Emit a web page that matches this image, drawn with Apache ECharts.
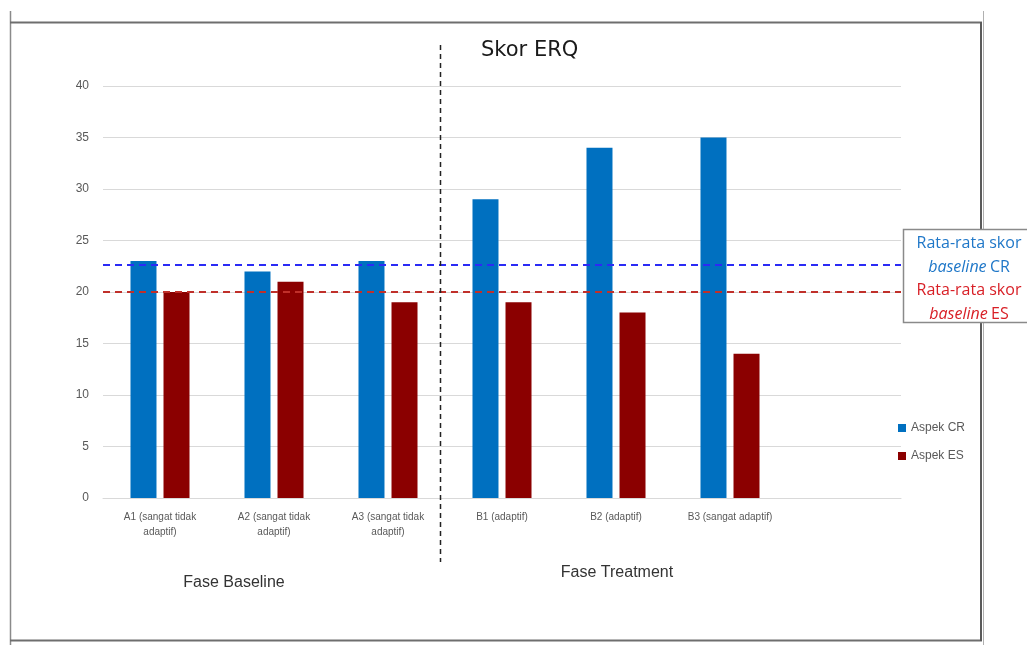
<!DOCTYPE html>
<html>
<head>
<meta charset="utf-8">
<script src="https://cdn.jsdelivr.net/npm/echarts@6/dist/echarts.min.js"></script>
<style>
  html, body { margin: 0; padding: 0; background: #ffffff; }
  #chart { width: 1027px; height: 645px; }
</style>
</head>
<body>
<div id="chart"></div>
<script>
// Categories for the two phases (baseline A1-A3, treatment B1-B3)
const categories = [
  'A1 (sangat tidak\nadaptif)',
  'A2 (sangat tidak\nadaptif)',
  'A3 (sangat tidak\nadaptif)',
  'B1 (adaptif)',
  'B2 (adaptif)',
  'B3 (sangat adaptif)'
];
const seriesNames = ['Aspek CR', 'Aspek ES'];
const valuesCR = [23, 22, 23, 29, 34, 35];
const valuesES = [20, 21, 19, 19, 18, 14];
const baselineCount = 3;
const yTicks = [0, 5, 10, 15, 20, 25, 30, 35, 40];

const mean = arr => arr.reduce((s, v) => s + v, 0) / arr.length;
const baselineCR = mean(valuesCR.slice(0, baselineCount));
const baselineES = mean(valuesES.slice(0, baselineCount));

// one spare empty slot on the right of the category axis
const axisCategories = categories.concat(['']);

const chart = echarts.init(document.getElementById('chart'), null, { renderer: 'canvas' });

const labelFont = '"Liberation Sans", Arial, sans-serif';
const calFont = '"Open Sans", "Noto Sans", sans-serif';

const option = {
  backgroundColor: '#ffffff',
  animation: false,
  title: {
    text: 'Skor ERQ',
    left: 476,
    top: 35,
    textStyle: { fontFamily: '"DejaVu Sans", sans-serif', fontSize: 21, fontWeight: 'normal', color: '#1a1a1a' }
  },
  legend: {
    data: seriesNames,
    orient: 'vertical',
    left: 893,
    top: 417,
    itemWidth: 8,
    itemHeight: 8,
    itemGap: 16,
    icon: 'rect',
    textStyle: { fontFamily: labelFont, fontSize: 12, color: '#595959' }
  },
  grid: { left: 103, right: 126, top: 86, bottom: 147, containLabel: false },
  xAxis: {
    type: 'category',
    data: axisCategories,
    axisLine: { show: true, lineStyle: { color: '#d9d9d9', width: 1 } },
    axisTick: { show: false },
    axisLabel: {
      interval: 0,
      margin: 12,
      fontFamily: labelFont,
      fontSize: 10,
      lineHeight: 15,
      color: '#595959'
    }
  },
  yAxis: {
    type: 'value',
    min: yTicks[0],
    max: yTicks[yTicks.length - 1],
    interval: 5,
    axisLine: { show: false },
    axisTick: { show: false },
    splitLine: { lineStyle: { color: '#d9d9d9', width: 1 } },
    axisLabel: { fontFamily: labelFont, fontSize: 12, color: '#595959', margin: 14 }
  },
  series: [
    {
      name: seriesNames[0],
      type: 'bar',
      data: valuesCR,
      barWidth: 26,
      barGap: '27%',
      itemStyle: { color: '#0070c0' },
      markLine: {
        symbol: 'none',
        silent: true,
        label: { show: false },
        lineStyle: { color: '#2b2bf5', type: [7, 5], width: 2 },
        data: [{ yAxis: baselineCR }]
      }
    },
    {
      name: seriesNames[1],
      type: 'bar',
      data: valuesES,
      barWidth: 26,
      itemStyle: { color: '#8b0000' },
      markLine: {
        symbol: 'none',
        silent: true,
        label: { show: false },
        lineStyle: { color: '#c0302a', type: [7, 5], width: 2 },
        data: [{ yAxis: baselineES }]
      }
    }
  ]
};

chart.setOption(option);

// Divider between the baseline and treatment phases, plus the frame and notes
const leftEdge = chart.convertToPixel({ xAxisIndex: 0 }, baselineCount - 1);
const rightEdge = chart.convertToPixel({ xAxisIndex: 0 }, baselineCount);
const dividerX = Math.round((leftEdge + rightEdge) / 2) - 4.5;
const baselineMid = chart.convertToPixel({ xAxisIndex: 0 }, 1);
const treatMid = chart.convertToPixel({ xAxisIndex: 0 }, 4);

chart.setOption({
  graphic: [
    // outer frame
    { type: 'line', shape: { x1: 10.5, y1: 11, x2: 10.5, y2: 645 }, style: { stroke: '#8a8a8a', lineWidth: 1.5 }, z: 1 },
    { type: 'line', shape: { x1: 10, y1: 22.5, x2: 982, y2: 22.5 }, style: { stroke: '#6e6e6e', lineWidth: 2 }, z: 1 },
    { type: 'line', shape: { x1: 10, y1: 640.5, x2: 982, y2: 640.5 }, style: { stroke: '#6e6e6e', lineWidth: 2 }, z: 1 },
    { type: 'line', shape: { x1: 981, y1: 22, x2: 981, y2: 641 }, style: { stroke: '#5a5a5a', lineWidth: 2 }, z: 1 },
    { type: 'line', shape: { x1: 983.5, y1: 11, x2: 983.5, y2: 645 }, style: { stroke: '#b0b0b0', lineWidth: 1 }, z: 1 },
    // phase divider
    {
      type: 'line',
      shape: { x1: dividerX, y1: 45, x2: dividerX, y2: 562 },
      style: { stroke: '#222222', lineWidth: 1.5, lineDash: [5, 4] },
      z: 10
    },
    // phase names
    {
      type: 'text', x: baselineMid - 40, y: 583,
      style: { text: 'Fase Baseline', fill: '#333333', font: '16px "Liberation Sans", Arial, sans-serif', textAlign: 'center', textVerticalAlign: 'middle' }
    },
    {
      type: 'text', x: treatMid + 1, y: 573,
      style: { text: 'Fase Treatment', fill: '#333333', font: '16px "Liberation Sans", Arial, sans-serif', textAlign: 'center', textVerticalAlign: 'middle' }
    },
    // note box for the dashed average lines
    {
      type: 'rect',
      shape: { x: 903.5, y: 229.5, width: 130, height: 93 },
      style: { fill: '#ffffff', stroke: '#8a8a8a', lineWidth: 1.5 },
      z: 20
    },
    {
      type: 'text', x: 969, y: 279, z: 21,
      style: {
        text: '{b|Rata-rata skor}\n{bi|baseline} {b|CR}\n{r|Rata-rata skor}\n{ri|baseline} {r|ES}',
        textAlign: 'center',
        textVerticalAlign: 'middle',
        rich: {
          b: { fill: '#1f77c8', fontFamily: calFont, fontSize: 16, lineHeight: 23.5 },
          bi: { fill: '#1f77c8', fontFamily: calFont, fontSize: 16, fontStyle: 'italic', lineHeight: 23.5 },
          r: { fill: '#d81f26', fontFamily: calFont, fontSize: 16, lineHeight: 23.5 },
          ri: { fill: '#d81f26', fontFamily: calFont, fontSize: 16, fontStyle: 'italic', lineHeight: 23.5 }
        }
      }
    }
  ]
});
</script>
</body>
</html>
